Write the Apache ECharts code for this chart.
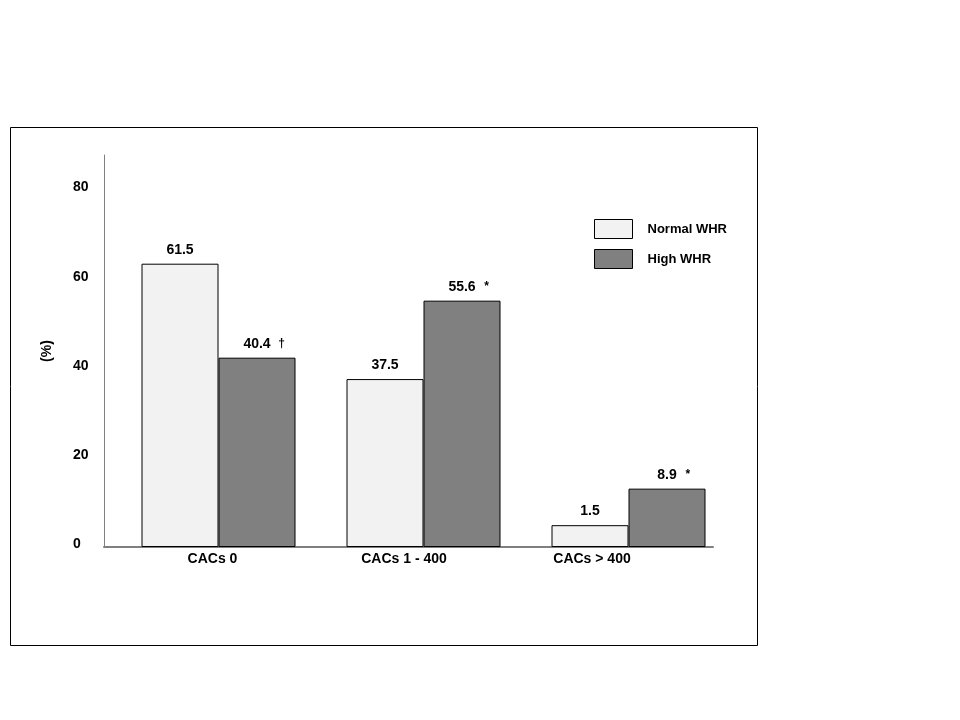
<!DOCTYPE html>
<html>
<head>
<meta charset="utf-8">
<script src="https://cdn.jsdelivr.net/npm/echarts@6/dist/echarts.min.js"></script>
<style>html,body{margin:0;padding:0;background:#fff;}#c{width:960px;height:720px;}</style>
</head>
<body>
<div id="c"></div>
<script>
// Data
const categories = ['CACs 0', 'CACs 1 - 400', 'CACs > 400'];
const seriesNames = ['Normal WHR', 'High WHR'];
// bar heights as drawn in the picture (%)
const normalWHR = [63.6, 37.7, 4.9];
const highWHR = [42.5, 55.3, 13.1];
// value labels printed above bars
const normalLabels = ['61.5', '37.5', '1.5'];
const highLabels = ['40.4', '55.6', '8.9'];
const normalMarks = ['', '', ''];
const highMarks = ['\u2020', '*', '*'];
const yTicks = [0, 20, 40, 60, 80];

const FONT = '"Liberation Sans", Arial, sans-serif';
const FS = 14;
const catLabelShift = [[0, 0, 0, 14], [0, 9, 0, 0], [0, 39, 0, 0]];

function makeLabel(labels, marks) {
  return {
    show: true,
    position: 'top',
    distance: 7,
    formatter: function (p) {
      const t = labels[p.dataIndex];
      const m = marks[p.dataIndex];
      return m ? '{pad|}{v|' + t + '}{m|' + m + '}' : '{v|' + t + '}';
    },
    rich: {
      v: { fontFamily: FONT, fontWeight: 'bold', fontSize: FS, color: '#000' },
      pad: { width: 22 },
      m: { width: 22, align: 'center', fontFamily: FONT, fontWeight: 'bold', fontSize: 12, color: '#000' }
    }
  };
}

const chart = echarts.init(document.getElementById('c'), null, { renderer: 'canvas' });
chart.setOption({
  backgroundColor: '#fff',
  animation: false,
  graphic: [{
    type: 'rect',
    shape: { x: 10.5, y: 127.5, width: 747, height: 518 },
    style: { fill: 'none', stroke: '#000', lineWidth: 1 },
    silent: true
  }],
  legend: {
    orient: 'vertical',
    left: 589,
    top: 214,
    itemWidth: 38,
    itemHeight: 19,
    itemGap: 10,
    icon: 'rect',
    itemStyle: { borderColor: '#000', borderWidth: 1 },
    data: seriesNames,
    textStyle: { fontFamily: FONT, fontWeight: 'bold', fontSize: 13, color: '#000', padding: [0, 0, 0, 10] }
  },
  grid: [
    { left: 104, right: 247, top: 155, bottom: 173 },
    { left: 116, right: 229, top: 155, bottom: 173 }
  ],
  xAxis: [
    {
      type: 'category',
      gridIndex: 0,
      data: categories.map(function (c, i) {
        return { value: c, textStyle: { padding: catLabelShift[i] } };
      }),
      axisLine: { show: true, lineStyle: { color: '#7f7f7f', width: 2 } },
      axisTick: { show: false },
      axisLabel: { show: true, margin: 5, fontFamily: FONT, fontWeight: 'bold', fontSize: FS, color: '#000', interval: 0 }
    },
    {
      type: 'category',
      gridIndex: 1,
      data: categories,
      show: false
    }
  ],
  yAxis: [
    {
      type: 'value',
      gridIndex: 0,
      min: 0,
      max: 88,
      interval: 20,
      name: '(%)',
      nameLocation: 'middle',
      nameRotate: 90,
      nameGap: 50,
      nameTextStyle: { fontFamily: FONT, fontWeight: 'bold', fontSize: FS, color: '#000' },
      axisLine: { show: true, lineStyle: { color: '#7f7f7f', width: 1 } },
      axisTick: { show: false },
      splitLine: { show: false },
      axisLabel: {
        showMaxLabel: false,
        align: 'left',
        margin: 31,
        formatter: function (v) { return yTicks.indexOf(v) >= 0 ? '{t|' + v + '}' : ''; },
        rich: {
          t: { fontFamily: FONT, fontWeight: 'bold', fontSize: FS, color: '#000', padding: [0, 0, 6, 0] }
        }
      }
    },
    {
      type: 'value',
      gridIndex: 1,
      min: 0,
      max: 88,
      show: false
    }
  ],
  series: [
    {
      name: seriesNames[0],
      type: 'bar',
      xAxisIndex: 1,
      yAxisIndex: 1,
      data: normalWHR,
      barWidth: 77,
      barGap: '0%',
      itemStyle: { color: '#f2f2f2', borderColor: '#000', borderWidth: 1 },
      label: makeLabel(normalLabels, normalMarks)
    },
    {
      name: seriesNames[1],
      type: 'bar',
      xAxisIndex: 1,
      yAxisIndex: 1,
      data: highWHR,
      barWidth: 77,
      barGap: '0%',
      itemStyle: { color: '#808080', borderColor: '#000', borderWidth: 1 },
      label: makeLabel(highLabels, highMarks)
    }
  ]
});
</script>
</body>
</html>
